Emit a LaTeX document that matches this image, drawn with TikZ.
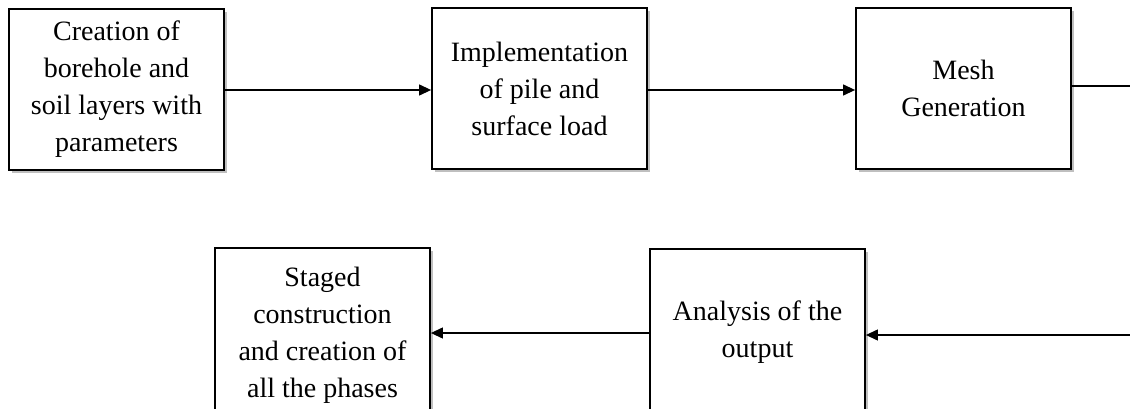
\documentclass[tikz,border=0pt]{standalone}
\usepackage{fontspec}
\setmainfont{Liberation Serif}
\usetikzlibrary{arrows.meta,shadows}
\begin{document}
\begin{tikzpicture}[x=1pt,y=1pt,
  stepbox/.style={draw=black, line width=1.8pt, fill=white, minimum width=215pt, minimum height=161pt,
    align=center, inner sep=0pt, font=\fontsize{28}{37}\selectfont,
    drop shadow={shadow xshift=3pt, shadow yshift=-3pt, fill=black!45, opacity=0.55}},
  conn/.style={line width=1.2pt, draw=black},
  arr/.style={conn, -{Triangle[length=12pt,width=11pt]}}]
\useasboundingbox (0,0) rectangle (1130,408);
\clip (0,0) rectangle (1130,408);
\fill[white] (0,0) rectangle (1130,408);
\node[stepbox] (b1) at (116.5,318.5) {Creation of\\borehole and\\soil layers with\\parameters};
\node[stepbox] (b2) at (539.5,319.5) {Implementation\\of pile and\\surface load};
\node[stepbox] (b3) at (963.5,319.5) {Mesh\\Generation};
\node[stepbox, minimum height=175pt] (b4) at (322.5,72.5) {Staged\\construction\\and creation of\\all the phases};
\node[stepbox, minimum height=167pt] (b5) at (757.5,75.5) {Analysis of the\\output};
\coordinate (out) at (1130,322);
\coordinate (in) at (1130,73);
\draw[arr] (b1.east |- 0,318) -- (b2.west |- 0,318);
\draw[arr] (b2.east |- 0,318) -- (b3.west |- 0,318);
\draw[conn] (b3.east |- out) -- (out);
\draw[arr] (in) -- (b5.east |- in);
\draw[arr] (b5.west |- 0,75) -- (b4.east |- 0,75);
\end{tikzpicture}
\end{document}
